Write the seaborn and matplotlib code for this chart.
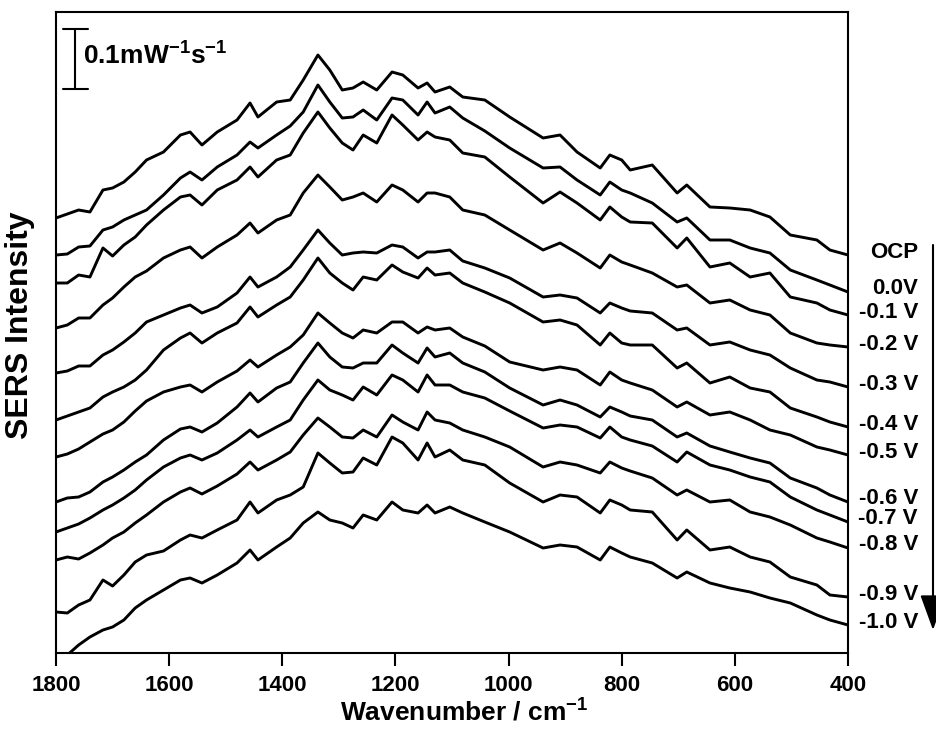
import matplotlib
matplotlib.use("Agg")
import matplotlib.pyplot as plt
import numpy as np
import pandas as pd
import seaborn as sns

# ---------------- data (intensity in a.u., stacked as in the figure) ----------------
wavenumber = [1800, 1780, 1760, 1740, 1717, 1700, 1680, 1660, 1640, 1610, 1580, 1563, 1542,
              1515, 1480, 1457, 1443, 1410, 1386, 1363, 1337, 1316, 1294, 1275, 1257, 1233,
              1206, 1187, 1160, 1144, 1130, 1104, 1081, 1042, 998, 939, 909, 879, 838, 821,
              800, 785, 746, 702, 685, 644, 609, 573, 538, 502, 455, 432, 400]

potentials = ["OCP", "0.0V", "-0.1 V", "-0.2 V", "-0.3 V", "-0.4 V", "-0.5 V",
              "-0.6 V", "-0.7 V", "-0.8 V", "-0.9 V", "-1.0 V"]

ocp = [435, 439, 443, 441, 463, 465, 471, 481, 493, 501, 518, 521, 508, 521, 533, 550, 536, 551,
       553, 573, 598, 583, 563, 565, 571, 563, 581, 578, 565, 570, 561, 566, 556, 553, 536, 515,
       518, 501, 485, 498, 493, 483, 488, 460, 468, 446, 445, 443, 436, 418, 413, 403, 398]
v_p00 = [398, 399, 406, 407, 423, 426, 433, 438, 443, 458, 475, 481, 473, 486, 498, 511, 505, 518,
         527, 541, 568, 551, 535, 536, 543, 533, 555, 553, 538, 551, 540, 546, 535, 522, 505, 485,
         486, 473, 458, 471, 463, 460, 450, 431, 435, 413, 413, 405, 400, 383, 373, 368, 361]
v_m01 = [370, 370, 378, 376, 405, 397, 408, 416, 428, 443, 456, 458, 448, 463, 473, 486, 476, 493,
         498, 520, 541, 525, 510, 503, 518, 510, 538, 528, 513, 521, 516, 513, 500, 496, 476, 450,
         461, 450, 433, 446, 436, 431, 430, 405, 415, 386, 390, 376, 380, 356, 350, 343, 338]
v_m02 = [325, 328, 335, 335, 348, 355, 366, 376, 382, 395, 403, 406, 395, 406, 418, 430, 420, 433,
         438, 460, 478, 466, 453, 456, 460, 451, 468, 463, 451, 460, 460, 456, 443, 438, 423, 403,
         410, 400, 385, 398, 391, 388, 380, 366, 368, 350, 353, 343, 338, 320, 310, 308, 306]
v_m03 = [280, 282, 287, 287, 298, 303, 311, 320, 331, 338, 345, 348, 340, 346, 360, 376, 366, 376,
         386, 403, 423, 410, 398, 400, 401, 400, 408, 406, 395, 401, 401, 403, 392, 385, 375, 356,
         358, 355, 340, 350, 345, 342, 340, 323, 325, 308, 311, 303, 298, 285, 273, 271, 266]
v_m04 = [233, 237, 241, 245, 256, 261, 266, 273, 283, 303, 315, 320, 310, 320, 330, 346, 336, 348,
         356, 373, 395, 380, 370, 363, 376, 373, 388, 381, 375, 385, 378, 380, 370, 361, 350, 331,
         333, 328, 308, 320, 310, 308, 308, 285, 290, 270, 276, 265, 261, 245, 236, 231, 226]
v_m05 = [196, 199, 204, 211, 219, 223, 231, 242, 252, 261, 266, 268, 261, 271, 282, 293, 286, 298,
         306, 318, 340, 330, 320, 315, 323, 320, 331, 331, 320, 326, 323, 325, 316, 307, 291, 283,
         286, 283, 268, 281, 273, 270, 263, 246, 251, 238, 241, 233, 223, 218, 206, 203, 198]
v_m06 = [151, 155, 156, 161, 171, 176, 183, 191, 198, 213, 224, 226, 221, 230, 246, 260, 251, 265,
         271, 290, 310, 296, 286, 285, 290, 290, 308, 300, 290, 305, 296, 300, 290, 281, 265, 248,
         253, 248, 236, 246, 241, 237, 233, 216, 220, 207, 201, 195, 190, 175, 165, 158, 151]
v_m07 = [121, 125, 129, 135, 143, 148, 155, 163, 173, 186, 195, 198, 193, 200, 213, 223, 216, 226,
         233, 253, 273, 263, 258, 253, 266, 258, 278, 273, 261, 278, 268, 268, 261, 255, 242, 225,
         228, 226, 215, 226, 216, 213, 207, 191, 201, 188, 183, 176, 171, 156, 143, 138, 131]
v_m08 = [93, 96, 94, 100, 108, 115, 121, 130, 138, 151, 161, 165, 159, 167, 179, 191, 183, 193,
         201, 218, 235, 226, 216, 215, 223, 216, 238, 231, 223, 241, 233, 230, 223, 216, 206, 186,
         191, 188, 180, 191, 185, 182, 175, 158, 163, 151, 153, 141, 136, 128, 115, 111, 105]
v_m09 = [41, 40, 48, 53, 73, 67, 78, 91, 98, 102, 113, 118, 115, 123, 133, 151, 140, 153,
         158, 166, 200, 190, 180, 181, 195, 188, 216, 210, 193, 210, 196, 203, 193, 188, 170, 151,
         158, 156, 140, 153, 148, 143, 141, 113, 123, 103, 106, 96, 91, 76, 68, 58, 56]
v_m10 = [-7, -2, 8, 16, 23, 26, 33, 45, 53, 63, 73, 75, 70, 78, 90, 103, 93, 106,
         115, 130, 141, 133, 130, 125, 138, 133, 151, 143, 140, 148, 140, 146, 140, 131, 121, 105,
         108, 106, 93, 106, 100, 96, 90, 75, 81, 70, 65, 61, 55, 50, 38, 33, 28]

spectra = [ocp, v_p00, v_m01, v_m02, v_m03, v_m04, v_m05, v_m06, v_m07, v_m08, v_m09, v_m10]

xticks = [1800, 1600, 1400, 1200, 1000, 800, 600, 400]
scale_bar_value = 60          # a.u. corresponding to 0.1 mW^-1 s^-1
scale_bar_label = r"0.1mW$^{-1}$s$^{-1}$"

# ---------------- style ----------------
sns.set_theme(style="ticks")
plt.rcParams["font.family"] = ["Liberation Sans", "DejaVu Sans"]
plt.rcParams["font.weight"] = "bold"
plt.rcParams["mathtext.fontset"] = "custom"
plt.rcParams["mathtext.rm"] = "Liberation Sans:bold"
plt.rcParams["mathtext.bf"] = "Liberation Sans:bold"
plt.rcParams["mathtext.it"] = "Liberation Sans:bold"
plt.rcParams["mathtext.sf"] = "Liberation Sans:bold"
plt.rcParams["mathtext.default"] = "bf"

rows = []
for name, vals in zip(potentials, spectra):
    for w, v in zip(wavenumber, vals):
        rows.append((name, w, v))
df = pd.DataFrame(rows, columns=["potential", "wavenumber", "intensity"])

W, H = 937, 734
fig = plt.figure(figsize=(W / 100, H / 100), dpi=100)
ax = fig.add_axes([56 / W, 1 - 653 / H, (848 - 56) / W, (653 - 12) / H])

sns.lineplot(data=df, x="wavenumber", y="intensity", hue="potential",
             hue_order=potentials, palette=["black"] * len(potentials),
             linewidth=2.1, legend=False, estimator=None, ax=ax)

ax.set_xlim(1800, 400)
ax.set_ylim(0, 641)
ax.set_yticks([])
ax.set_xticks(xticks)
ax.set_xticklabels([str(t) for t in xticks], fontsize=16, fontweight="bold")
ax.tick_params(axis="x", direction="out", length=9.5, width=1.5, pad=6, colors="black")
for sp in ax.spines.values():
    sp.set_visible(True)
    sp.set_linewidth(1.5)
    sp.set_color("black")

ax.set_xlabel(r"Wavenumber / cm$^{-1}$", fontsize=19, fontweight="bold", color="black")
ax.xaxis.set_label_coords(0.515, -0.072)
ax.set_ylabel("SERS Intensity", fontsize=23, fontweight="bold", color="black")
ax.yaxis.set_label_coords(-0.026, 0.512)

# potential labels at right of each trace
ytrans = ax.get_yaxis_transform()
for name, vals in zip(potentials, spectra):
    ax.text((918 - 56) / 792, vals[-1] + 3, name, transform=ytrans, ha="right",
            va="center", fontsize=16, fontweight="bold", color="black", clip_on=False)

# scale bar
sb_x, sb_bottom = 1766, 564
ax.plot([sb_x, sb_x], [sb_bottom, sb_bottom + scale_bar_value], color="black", lw=1.5)
for yy in (sb_bottom, sb_bottom + scale_bar_value):
    ax.plot([1788, 1743], [yy, yy], color="black", lw=1.5)
ax.text(1752, sb_bottom + scale_bar_value / 2 + 3, scale_bar_label, fontsize=19,
        fontweight="bold", ha="left", va="center", color="black")

# arrow on the right
ax.annotate("", xy=(933, 104), xytext=(933, 489), xycoords="figure pixels",
            textcoords="figure pixels",
            arrowprops=dict(arrowstyle="-|>,head_length=1.1,head_width=0.4",
                            lw=1.5, color="black", mutation_scale=20, shrinkA=0, shrinkB=0),
            annotation_clip=False)

fig.savefig("out.png", dpi=100)
